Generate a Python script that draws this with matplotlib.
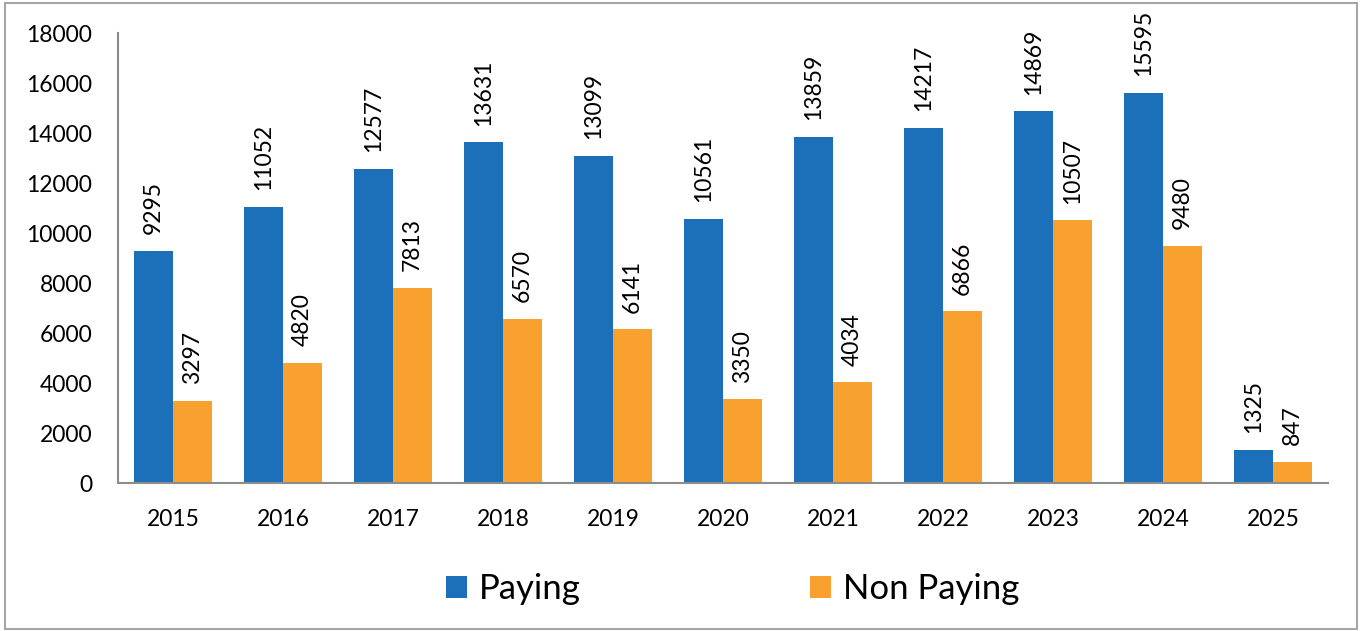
import matplotlib.pyplot as plt
import numpy as np

years = ["2015", "2016", "2017", "2018", "2019", "2020", "2021", "2022", "2023", "2024", "2025"]
paying = [9295, 11052, 12577, 13631, 13099, 10561, 13859, 14217, 14869, 15595, 1325]
non_paying = [3297, 4820, 7813, 6570, 6141, 3350, 4034, 6866, 10507, 9480, 847]

plt.rcParams['font.family'] = ['Lato', 'DejaVu Sans']

fig = plt.figure(figsize=(13.62, 6.31), dpi=100)
ax = fig.add_axes([0.0866, 0.2345, 0.8884, 0.7132])

x = np.arange(len(years))
w = 0.355
b1 = ax.bar(x - w/2, paying, w, color="#1C70BA", label="Paying")
b2 = ax.bar(x + w/2, non_paying, w, color="#F9A12E", label="Non Paying")

for bars in (b1, b2):
    ax.bar_label(bars, padding=12, rotation=90, fontsize=16.5)

ax.set_xlim(-0.5, len(years) - 0.5)
ax.set_ylim(0, 18000)
ax.set_yticks(range(0, 18001, 2000))
ax.set_xticks(x)
ax.set_xticklabels(years)
ax.tick_params(axis='both', length=0, labelsize=16.5)
ax.tick_params(axis='x', pad=19)
ax.tick_params(axis='y', pad=18.5)

for s in ['top', 'right']:
    ax.spines[s].set_visible(False)
ax.spines[['left', 'bottom']].set_color("#8c8c8c")
ax.spines[['left', 'bottom']].set_linewidth(1.5)

fig.legend(loc="center", bbox_to_anchor=(0.538, 0.066), ncol=2, frameon=False,
           fontsize=25, handlelength=0.6, handleheight=0.6, handletextpad=0.35,
           columnspacing=6.6)

# outer border
fig.patches.append(plt.Rectangle((0.004, 0.003), 0.992, 0.992, transform=fig.transFigure,
                                 fill=False, edgecolor="#a6a6a6", linewidth=1.5))

fig.savefig("out.png", dpi=100)
